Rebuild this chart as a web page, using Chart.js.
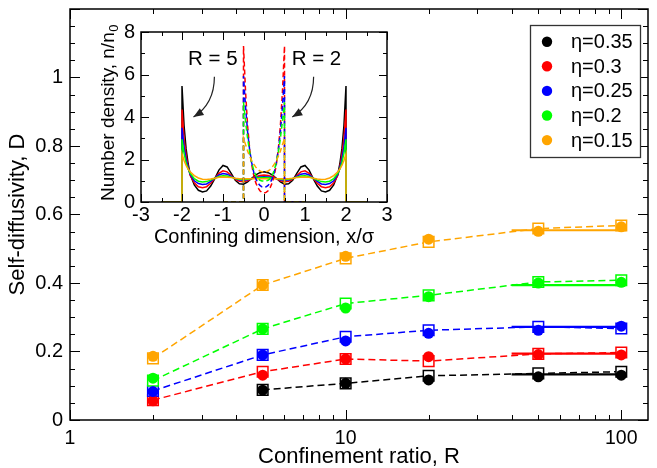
<!DOCTYPE html>
<html><head><meta charset="utf-8">
<script src="https://cdn.jsdelivr.net/npm/chart.js@4/dist/chart.umd.min.js"></script>
<style>
html,body{margin:0;padding:0;background:#fff;}
#wrap{position:relative;width:657px;height:468px;overflow:hidden;}
#main{position:absolute;left:0;top:0;}
#inset{position:absolute;left:72px;top:9px;}
</style></head><body>
<div id="wrap"><canvas id="main" width="657" height="468"></canvas><canvas id="inset" width="328" height="241"></canvas></div>
<script>
// ---------- main chart data ----------
const R = [2, 5, 10, 20, 50, 100];
const etaLabels = ['η=0.35', 'η=0.3', 'η=0.25', 'η=0.2', 'η=0.15'];
const colors = ['#000000', '#ff0000', '#0000ff', '#00ff00', '#ffa500'];
// filled circles
const circ035 = [null, 0.087, 0.107, 0.117, 0.126, 0.131];
const circ030 = [0.056, 0.131, 0.178, 0.185, 0.191, 0.190];
const circ025 = [0.083, 0.190, 0.231, 0.253, 0.262, 0.274];
const circ020 = [0.122, 0.266, 0.327, 0.360, 0.400, 0.402];
const circ015 = [0.186, 0.394, 0.478, 0.528, 0.551, 0.564];
// open squares (dashed lines)
const sq035 = [null, 0.088, 0.107, 0.129, 0.136, 0.141];
const sq030 = [0.058, 0.141, 0.178, 0.172, 0.193, 0.197];
const sq025 = [0.085, 0.190, 0.243, 0.262, 0.272, 0.267];
const sq020 = [0.115, 0.266, 0.340, 0.364, 0.403, 0.408];
const sq015 = [0.180, 0.394, 0.472, 0.520, 0.559, 0.568];
// bulk values (solid lines)
const bulkR = [40, 104];
const bulkD = [0.133, 0.194, 0.272, 0.394, 0.554];
const xTicksMain = [1, 10, 100];
const xTickLabelsMain = ['1', '10', '100'];
const yTicksMain = [0, 0.2, 0.4, 0.6, 0.8, 1];
const yTickLabelsMain = ['0', '0.2', '0.4', '0.6', '0.8', '1'];

// ---------- inset data ----------
const xR5 = [-2.5, -2, -2, -1.95, -1.9, -1.85, -1.8, -1.7, -1.6, -1.5, -1.4, -1.3, -1.2, -1.1, -1.0, -0.9, -0.8, -0.7, -0.6, -0.5, -0.4, -0.3, -0.2, -0.1, 0,
  0.1, 0.2, 0.3, 0.4, 0.5, 0.6, 0.7, 0.8, 0.9, 1.0, 1.1, 1.2, 1.3, 1.4, 1.5, 1.6, 1.7, 1.8, 1.85, 1.9, 1.95, 2, 2, 2.5];
const nR5_035 = [0,0,5.46,3.6,2.5,1.8,1.3,0.8,0.55,0.47,0.52,0.75,1.1,1.5,1.72,1.65,1.35,1.02,0.86,0.84,0.95,1.12,1.28,1.38,1.42,
  1.38,1.28,1.12,0.95,0.84,0.86,1.02,1.35,1.65,1.72,1.5,1.1,0.75,0.52,0.47,0.55,0.8,1.3,1.8,2.5,3.6,5.46,0,0];
const nR5_030 = [0,0,4.35,3.0,2.2,1.65,1.25,0.9,0.72,0.67,0.72,0.88,1.12,1.35,1.47,1.42,1.25,1.07,0.97,0.95,1.0,1.1,1.19,1.25,1.27,
  1.25,1.19,1.1,1.0,0.95,0.97,1.07,1.25,1.42,1.47,1.35,1.12,0.88,0.72,0.67,0.72,0.9,1.25,1.65,2.2,3.0,4.35,0,0];
const nR5_025 = [0,0,3.49,2.6,2.0,1.6,1.3,1.0,0.87,0.82,0.85,0.97,1.13,1.27,1.34,1.31,1.21,1.1,1.04,1.02,1.05,1.1,1.15,1.18,1.19,
  1.18,1.15,1.1,1.05,1.02,1.04,1.1,1.21,1.31,1.34,1.27,1.13,0.97,0.85,0.82,0.87,1.0,1.3,1.6,2.0,2.6,3.49,0,0];
const nR5_020 = [0,0,2.95,2.3,1.85,1.55,1.35,1.1,0.98,0.94,0.96,1.03,1.12,1.2,1.24,1.22,1.17,1.11,1.07,1.06,1.07,1.1,1.13,1.14,1.15,
  1.14,1.13,1.1,1.07,1.06,1.07,1.11,1.17,1.22,1.24,1.2,1.12,1.03,0.96,0.94,0.98,1.1,1.35,1.55,1.85,2.3,2.95,0,0];
const nR5_015 = [0,0,2.26,1.95,1.72,1.55,1.42,1.24,1.13,1.07,1.06,1.08,1.12,1.16,1.18,1.17,1.15,1.12,1.1,1.1,1.1,1.1,1.1,1.1,1.1,
  1.1,1.1,1.1,1.1,1.1,1.1,1.12,1.15,1.17,1.18,1.16,1.12,1.08,1.06,1.07,1.13,1.24,1.42,1.55,1.72,1.95,2.26,0,0];
const xR2 = [-1, -0.5, -0.5, -0.45, -0.4, -0.35, -0.3, -0.25, -0.2, -0.15, -0.1, -0.05, 0, 0.05, 0.1, 0.15, 0.2, 0.25, 0.3, 0.35, 0.4, 0.45, 0.5, 0.5, 1];
const nR2_030 = [0,0,7.34,5.2,3.6,2.5,1.75,1.25,0.9,0.68,0.53,0.45,0.42,0.45,0.53,0.68,0.9,1.25,1.75,2.5,3.6,5.2,7.34,0,0];
const nR2_025 = [0,0,5.93,4.5,3.3,2.45,1.85,1.4,1.1,0.9,0.78,0.71,0.69,0.71,0.78,0.9,1.1,1.4,1.85,2.45,3.3,4.5,5.93,0,0];
const nR2_020 = [0,0,4.7,3.8,3.0,2.35,1.85,1.5,1.25,1.1,1.02,0.99,0.98,0.99,1.02,1.1,1.25,1.5,1.85,2.35,3.0,3.8,4.7,0,0];
const nR2_015 = [0,0,3.0,2.7,2.4,2.15,1.95,1.78,1.64,1.53,1.46,1.42,1.41,1.42,1.46,1.53,1.64,1.78,1.95,2.15,2.4,2.7,3.0,0,0];
const xTicksInset = [-3, -2, -1, 0, 1, 2, 3];
const xTickLabelsInset = ['-3', '-2', '-1', '0', '1', '2', '3'];
const yTicksInset = [0, 2, 4, 6, 8];
const yTickLabelsInset = ['0', '2', '4', '6', '8'];

// ---------- setup ----------
const FONT = "'Liberation Sans', Arial, Helvetica, sans-serif";
Chart.defaults.font.family = FONT;
Chart.defaults.color = '#000';
const pts = (xs, ys) => xs.map((x, i) => ({x: x, y: ys[i]}));

const circ = [circ035, circ030, circ025, circ020, circ015];
const sq = [sq035, sq030, sq025, sq020, sq015];
const mainDs = [];
sq.forEach((arr, i) => mainDs.push({
  data: pts(R, arr), showLine: true, borderColor: colors[i], borderWidth: 1.5, borderDash: [7, 4],
  pointStyle: 'rect', pointRadius: 7.5, pointBorderWidth: 1.5, pointBorderColor: colors[i],
  pointBackgroundColor: '#ffffff', fill: false
}));
bulkD.forEach((v, i) => mainDs.push({
  data: pts(bulkR, [v, v]), showLine: true, borderColor: colors[i], borderWidth: 2.2, pointRadius: 0, fill: false
}));
circ.forEach((arr, i) => mainDs.push({
  data: pts(R, arr), showLine: false, pointStyle: 'circle', pointRadius: 5.5,
  pointBackgroundColor: colors[i], pointBorderColor: colors[i], pointBorderWidth: 0
}));
mainDs.forEach((d, i) => d.order = -i);

const mainDecor = {
  id: 'mainDecor',
  afterDraw(chart) {
    const {ctx, chartArea: a, scales: {x, y}} = chart;
    ctx.save();
    ctx.strokeStyle = '#000';
    ctx.lineWidth = 1;
    ctx.beginPath();
    [1, 10, 100].forEach(dec => {
      for (let k = 1; k <= 9; k++) {
        const v = k * dec;
        if (v < x.min || v > x.max) continue;
        const px = Math.round(x.getPixelForValue(v)) + 0.5;
        const len = k === 1 ? 10 : 5;
        ctx.moveTo(px, a.bottom); ctx.lineTo(px, a.bottom - len);
        ctx.moveTo(px, a.top); ctx.lineTo(px, a.top + len);
      }
    });
    for (let i = 0; i <= 24; i++) {
      const v = i * 0.05;
      const py = Math.round(y.getPixelForValue(v)) + 0.5;
      const len = i % 4 === 0 ? 10 : 5;
      ctx.moveTo(a.left, py); ctx.lineTo(a.left + len, py);
      ctx.moveTo(a.right, py); ctx.lineTo(a.right - len, py);
    }
    ctx.stroke();
    ctx.lineWidth = 1.5;
    ctx.strokeRect(a.left, a.top, a.right - a.left, a.bottom - a.top);
    // legend
    ctx.fillStyle = '#fff';
    ctx.fillRect(530, 25, 110, 132);
    ctx.strokeStyle = '#333';
    ctx.lineWidth = 1.3;
    ctx.strokeRect(530.5, 25.5, 110, 132);
    ctx.font = '20px ' + FONT;
    ctx.textBaseline = 'middle';
    ctx.textAlign = 'left';
    etaLabels.forEach((t, i) => {
      const yy = 41.7 + i * 24.6;
      ctx.fillStyle = colors[i];
      ctx.beginPath(); ctx.arc(547, yy, 5.2, 0, Math.PI * 2); ctx.fill();
      ctx.fillStyle = '#000';
      ctx.fillText(t, 571, yy + 1);
    });
    ctx.restore();
  }
};

new Chart(document.getElementById('main'), {
  type: 'scatter',
  data: {datasets: mainDs},
  options: {
    responsive: false, animation: false, devicePixelRatio: 1, events: [],
    layout: {padding: {top: 8, right: 4, left: 0, bottom: 0}},
    plugins: {legend: {display: false}, tooltip: {enabled: false}},
    scales: {
      x: {
        type: 'logarithmic', min: 1, max: 125,
        grid: {display: false, drawTicks: false}, border: {display: false},
        afterBuildTicks: s => { s.ticks = xTicksMain.map(v => ({value: v, major: true})); },
        afterFit: s => { s.height = 48; s.paddingLeft = 0; s.paddingRight = 0; },
        ticks: {autoSkip: false, maxRotation: 0, padding: 7, font: {size: 19.5},
          callback: (v, i) => xTickLabelsMain[i]},
        title: {display: true, text: 'Confinement ratio, R', font: {size: 22, lineHeight: 1}, padding: {top: 0, bottom: 0}}
      },
      y: {
        type: 'linear', min: 0, max: 1.2,
        grid: {display: false, drawTicks: false}, border: {display: false},
        afterBuildTicks: s => { s.ticks = yTicksMain.map(v => ({value: v})); },
        afterFit: s => { s.width = 70; s.paddingTop = 0; s.paddingBottom = 0; },
        ticks: {autoSkip: false, padding: 7, font: {size: 20}, callback: (v, i) => yTickLabelsMain[i]},
        title: {display: true, text: 'Self-diffusivity, D', font: {size: 22, lineHeight: 1}, padding: {top: 7, bottom: 0}}
      }
    }
  },
  plugins: [mainDecor]
});

// ---------- inset ----------
const r5 = [nR5_035, nR5_030, nR5_025, nR5_020, nR5_015];
const r2 = [nR2_030, nR2_025, nR2_020, nR2_015];
const r2Colors = [colors[1], colors[2], colors[3], colors[4]];
const insetDs = [];
r5.forEach((arr, i) => insetDs.push({
  data: pts(xR5, arr), borderColor: colors[i], borderWidth: 1.5, pointRadius: 0, tension: 0, fill: false
}));
r2.forEach((arr, i) => insetDs.push({
  data: pts(xR2, arr), borderColor: r2Colors[i], borderWidth: 1.5, borderDash: [5, 3], pointRadius: 0, tension: 0, fill: false
}));
insetDs.forEach((d, i) => d.order = -i);

function arrow(ctx, x0, y0, cx, cy, x1, y1) {
  ctx.beginPath();
  ctx.moveTo(x0, y0);
  ctx.quadraticCurveTo(cx, cy, x1, y1);
  ctx.stroke();
  const ang = Math.atan2(y1 - cy, x1 - cx);
  const L = 10, W = 4;
  ctx.beginPath();
  ctx.moveTo(x1, y1);
  ctx.lineTo(x1 - L * Math.cos(ang) + W * Math.sin(ang), y1 - L * Math.sin(ang) - W * Math.cos(ang));
  ctx.lineTo(x1 - L * Math.cos(ang) - W * Math.sin(ang), y1 - L * Math.sin(ang) + W * Math.cos(ang));
  ctx.closePath();
  ctx.fill();
}

const insetDecor = {
  id: 'insetDecor',
  afterDraw(chart) {
    const {ctx, chartArea: a, scales: {x, y}} = chart;
    ctx.save();
    ctx.strokeStyle = '#000';
    ctx.lineWidth = 1;
    ctx.beginPath();
    for (let i = 0; i <= 12; i++) {
      const v = -3 + i * 0.5;
      const px = Math.round(x.getPixelForValue(v)) + 0.5;
      const len = i % 2 === 0 ? 8 : 4;
      ctx.moveTo(px, a.bottom); ctx.lineTo(px, a.bottom - len);
      ctx.moveTo(px, a.top); ctx.lineTo(px, a.top + len);
    }
    for (let i = 0; i <= 8; i++) {
      const py = Math.round(y.getPixelForValue(i)) + 0.5;
      const len = i % 2 === 0 ? 8 : 4;
      ctx.moveTo(a.left, py); ctx.lineTo(a.left + len, py);
      ctx.moveTo(a.right, py); ctx.lineTo(a.right - len, py);
    }
    ctx.stroke();
    ctx.lineWidth = 1.5;
    ctx.strokeRect(a.left, a.top, a.right - a.left, a.bottom - a.top);
    // labels
    ctx.fillStyle = '#000';
    ctx.font = '20.5px ' + FONT;
    ctx.textAlign = 'center';
    ctx.textBaseline = 'middle';
    ctx.fillText('R = 5', x.getPixelForValue(-1.25), y.getPixelForValue(6.7));
    ctx.fillText('R = 2', x.getPixelForValue(1.28), y.getPixelForValue(6.7));
    // arrows
    ctx.lineWidth = 1.2;
    ctx.strokeStyle = '#222';
    ctx.fillStyle = '#222';
    arrow(ctx, x.getPixelForValue(-1.21), y.getPixelForValue(5.9), x.getPixelForValue(-1.21), y.getPixelForValue(4.62), x.getPixelForValue(-1.72), y.getPixelForValue(4.0));
    arrow(ctx, x.getPixelForValue(1.21), y.getPixelForValue(5.9), x.getPixelForValue(1.21), y.getPixelForValue(4.62), x.getPixelForValue(0.69), y.getPixelForValue(4.0));
    // y title with subscript
    ctx.fillStyle = '#000';
    ctx.translate(37, (a.top + a.bottom) / 2 - 4);
    ctx.rotate(-Math.PI / 2);
    ctx.textAlign = 'left';
    ctx.textBaseline = 'middle';
    const mainTxt = 'Number density, n/n', subTxt = '0';
    ctx.font = '19px ' + FONT;
    const w1 = ctx.measureText(mainTxt).width;
    ctx.font = '13px ' + FONT;
    const w2 = ctx.measureText(subTxt).width;
    const start = -(w1 + w2) / 2;
    ctx.font = '19px ' + FONT;
    ctx.fillText(mainTxt, start, 0);
    ctx.font = '13px ' + FONT;
    ctx.fillText(subTxt, start + w1 + 0.5, 5);
    ctx.restore();
  }
};

new Chart(document.getElementById('inset'), {
  type: 'line',
  data: {datasets: insetDs},
  options: {
    responsive: false, animation: false, devicePixelRatio: 1, events: [],
    layout: {padding: {top: 23, right: 13, left: 0, bottom: 0}},
    plugins: {legend: {display: false}, tooltip: {enabled: false}},
    scales: {
      x: {
        type: 'linear', min: -3, max: 3,
        grid: {display: false, drawTicks: false}, border: {display: false},
        afterBuildTicks: s => { s.ticks = xTicksInset.map(v => ({value: v})); },
        afterFit: s => { s.height = 48; s.paddingLeft = 0; s.paddingRight = 0; },
        ticks: {autoSkip: false, maxRotation: 0, padding: 1, font: {size: 20}, callback: (v, i) => xTickLabelsInset[i]},
        title: {display: true, text: 'Confining dimension, x/σ', font: {size: 20, lineHeight: 1}, padding: {top: 0, bottom: 3}}
      },
      y: {
        type: 'linear', min: 0, max: 8,
        grid: {display: false, drawTicks: false}, border: {display: false},
        afterBuildTicks: s => { s.ticks = yTicksInset.map(v => ({value: v})); },
        afterFit: s => { s.width = 69; s.paddingTop = 0; s.paddingBottom = 0; },
        ticks: {autoSkip: false, padding: 6, font: {size: 20}, callback: (v, i) => yTickLabelsInset[i]},
        title: {display: false}
      }
    }
  },
  plugins: [insetDecor]
});
</script>
</body></html>
